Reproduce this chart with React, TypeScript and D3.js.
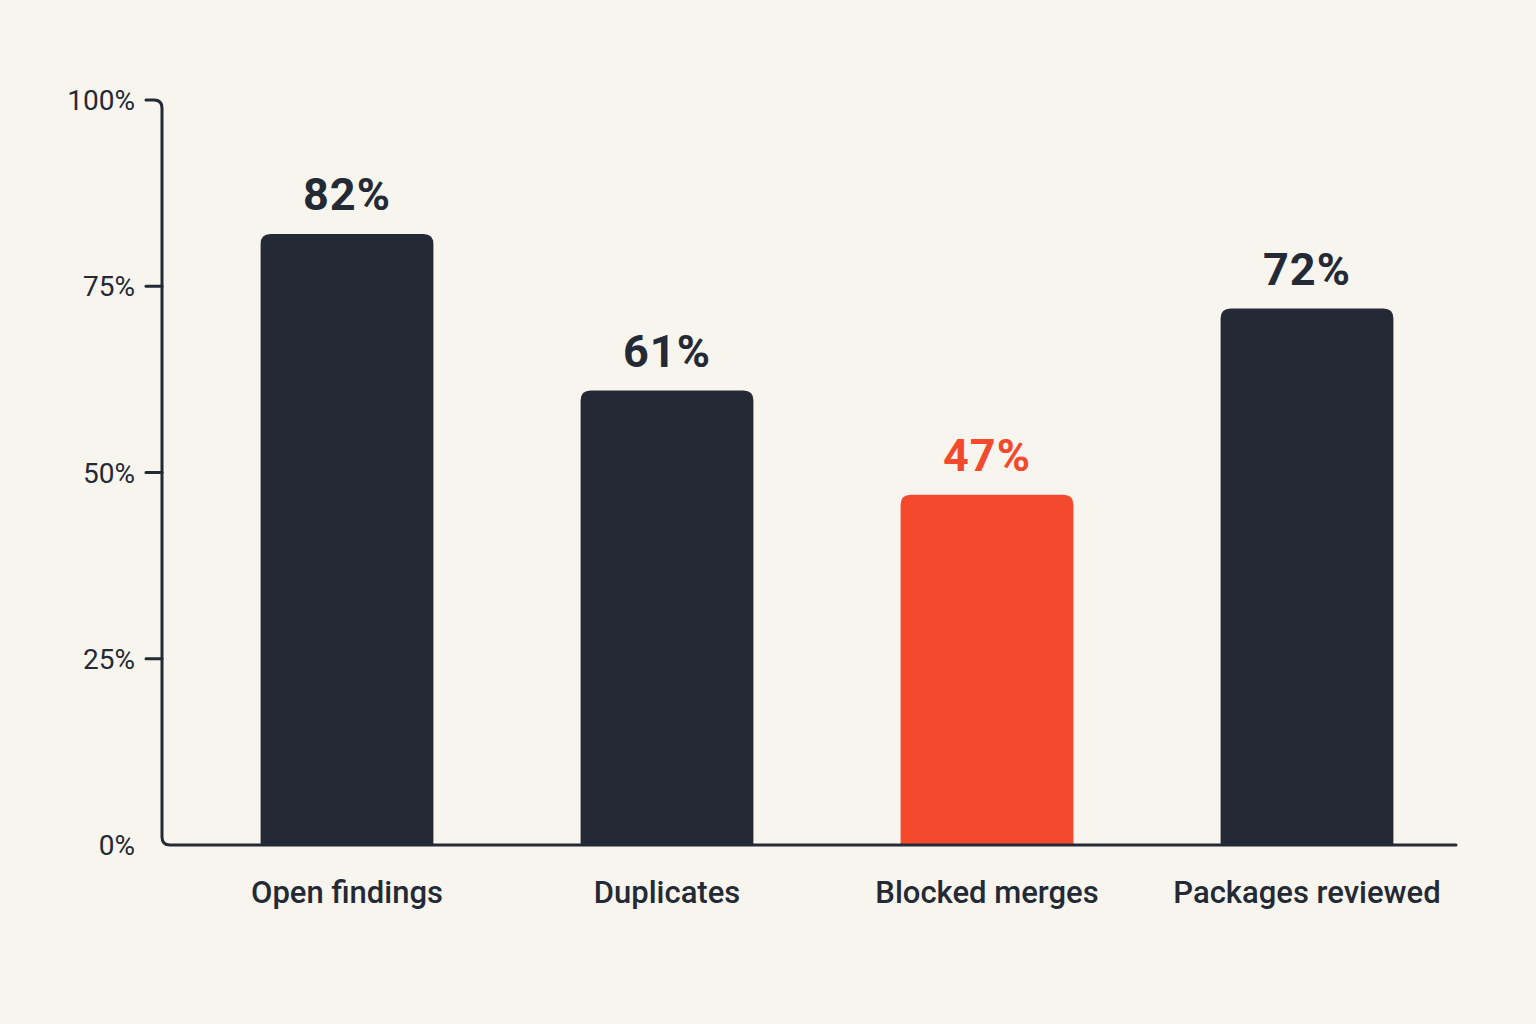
import React from 'react';
import * as d3 from 'd3';

const categories = ['Open findings', 'Duplicates', 'Blocked merges', 'Packages reviewed'];
const values = [82, 61, 47, 72];
const highlighted = ['Blocked merges'];
const yTicks = [0, 25, 50, 75, 100];

const WIDTH = 1536;
const HEIGHT = 1024;
const INK = '#232a35';
const ACCENT = '#f4492c';
const BG = '#f8f5ef';
const FONT = 'Roboto, "Noto Sans", sans-serif';

const App: React.FC = () => {
  const svgRef = React.useRef<SVGSVGElement>(null);

  React.useEffect(() => {
    if (!svgRef.current) return;
    const svg = d3.select(svgRef.current);
    svg.selectAll('*').remove();

    const axisX = 162;
    const axisEnd = 1456;

    const x = d3.scaleBand()
      .domain(categories)
      .range([187, 1467])
      .paddingInner(0.46)
      .paddingOuter(0.23);

    const y = d3.scaleLinear().domain([0, 100]).range([845, 100]);

    svg.append('rect')
      .attr('width', WIDTH)
      .attr('height', HEIGHT)
      .attr('fill', BG);

    // Bars, rounded on top only
    const r = 10;
    categories.forEach((c, i) => {
      const x0 = x(c)!;
      const x1 = x0 + x.bandwidth();
      const top = y(values[i]);
      const base = y(0);
      const color = highlighted.includes(c) ? ACCENT : INK;
      svg.append('path')
        .attr('d', `M${x0},${base} V${top + r} Q${x0},${top} ${x0 + r},${top} H${x1 - r} Q${x1},${top} ${x1},${top + r} V${base} Z`)
        .attr('fill', color);

      svg.append('text')
        .attr('x', x0 + x.bandwidth() / 2)
        .attr('y', top - 24)
        .attr('text-anchor', 'middle')
        .style('font-family', FONT)
        .style('font-size', '45px')
        .style('font-weight', '700')
        .style('letter-spacing', '1px')
        .style('fill', color)
        .text(`${values[i]}%`);

      svg.append('text')
        .attr('x', x0 + x.bandwidth() / 2)
        .attr('y', 903)
        .attr('text-anchor', 'middle')
        .style('font-family', FONT)
        .style('font-size', '31px')
        .style('font-weight', '500')
        .style('fill', INK)
        .text(c);
    });

    // Axis line with rounded corners
    const yTop = y(100);
    const yBase = y(0);
    svg.append('path')
      .attr('d', `M146,${yTop} H${axisX - 8} Q${axisX},${yTop} ${axisX},${yTop + 8} V${yBase - 8} Q${axisX},${yBase} ${axisX + 8},${yBase} H${axisEnd}`)
      .attr('fill', 'none')
      .attr('stroke', INK)
      .attr('stroke-width', 3)
      .attr('stroke-linecap', 'round');

    yTicks.forEach(t => {
      if (t > 0 && t < 100) {
        svg.append('line')
          .attr('x1', 146)
          .attr('x2', axisX)
          .attr('y1', y(t))
          .attr('y2', y(t))
          .attr('stroke', INK)
          .attr('stroke-width', 3)
          .attr('stroke-linecap', 'round');
      }
      svg.append('text')
        .attr('x', 135)
        .attr('y', y(t))
        .attr('dy', '0.36em')
        .attr('text-anchor', 'end')
        .style('font-family', FONT)
        .style('font-size', '28px')
        .style('fill', INK)
        .text(`${t}%`);
    });
  }, []);

  return (
    <svg
      ref={svgRef}
      width={WIDTH}
      height={HEIGHT}
      viewBox={`0 0 ${WIDTH} ${HEIGHT}`}
      style={{ position: 'absolute', left: 0, top: 0, display: 'block' }}
    />
  );
};

export default App;
